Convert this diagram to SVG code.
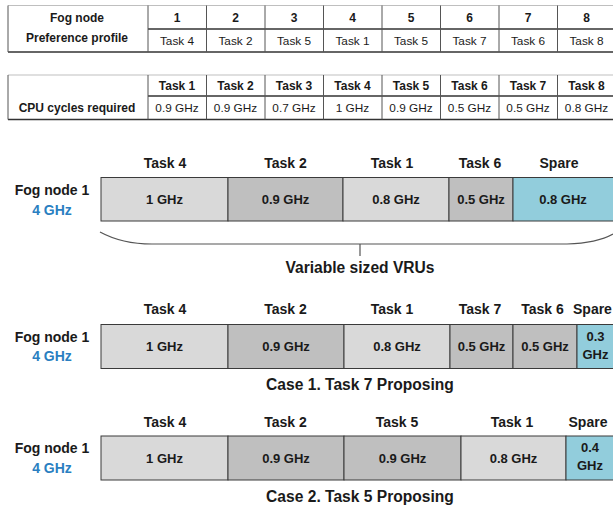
<svg xmlns="http://www.w3.org/2000/svg" width="613" height="510" viewBox="0 0 613 510">
<style>
text{font-family:"Liberation Sans",Arial,sans-serif;fill:#1a1a1a;text-anchor:middle}
.th{font-size:12px;font-weight:bold}
.td{font-size:11.8px}
.lbl{font-size:14px;font-weight:bold}
.val{font-size:13px;font-weight:bold}
.cap{font-size:15.6px;font-weight:bold}
.ghz{fill:#2a7fc1}
.lt{fill:#d9d9d9;stroke:#3a3a3a;stroke-width:1}
.dk{fill:#bfbfbf;stroke:#3a3a3a;stroke-width:1}
.sp{fill:#92cddc;stroke:#3a3a3a;stroke-width:1}
.g{stroke:#bfbfbf;stroke-width:1}
.d{stroke:#333;stroke-width:1.3}
.v{stroke:#555;stroke-width:1}
</style>
<rect width="613" height="510" fill="#fff"/>
<g id="table-preference">
<line class="g" x1="8" y1="5.5" x2="613" y2="5.5"/>
<line class="d" x1="148" y1="29" x2="613" y2="29"/>
<line class="d" x1="8" y1="52" x2="613" y2="52"/>
<g class="v">
<line x1="8" y1="5.5" x2="8" y2="52"/><line x1="148" y1="5.5" x2="148" y2="52"/><line x1="206.5" y1="5.5" x2="206.5" y2="52"/><line x1="265" y1="5.5" x2="265" y2="52"/><line x1="323.5" y1="5.5" x2="323.5" y2="52"/><line x1="382" y1="5.5" x2="382" y2="52"/><line x1="440.5" y1="5.5" x2="440.5" y2="52"/><line x1="499" y1="5.5" x2="499" y2="52"/><line x1="557.5" y1="5.5" x2="557.5" y2="52"/>
</g>
<text class="th" x="77" y="22">Fog node</text>
<text class="th" x="77" y="42">Preference profile</text>
<text class="th" x="177" y="22">1</text><text class="th" x="235.5" y="22">2</text><text class="th" x="294" y="22">3</text><text class="th" x="352.5" y="22">4</text><text class="th" x="411" y="22">5</text><text class="th" x="469.5" y="22">6</text><text class="th" x="528" y="22">7</text><text class="th" x="586.5" y="22">8</text>
<text class="td" x="177" y="45">Task 4</text><text class="td" x="235.5" y="45">Task 2</text><text class="td" x="294" y="45">Task 5</text><text class="td" x="352.5" y="45">Task 1</text><text class="td" x="411" y="45">Task 5</text><text class="td" x="469.5" y="45">Task 7</text><text class="td" x="528" y="45">Task 6</text><text class="td" x="586.5" y="45">Task 8</text>
</g>
<g id="table-cpu">
<line class="g" x1="8" y1="75" x2="613" y2="75"/>
<line class="d" x1="148" y1="96" x2="613" y2="96"/>
<line class="d" x1="8" y1="119.5" x2="613" y2="119.5"/>
<g class="v">
<line x1="8" y1="75" x2="8" y2="119.5"/><line x1="148" y1="75" x2="148" y2="119.5"/><line x1="206.5" y1="75" x2="206.5" y2="119.5"/><line x1="265" y1="75" x2="265" y2="119.5"/><line x1="323.5" y1="75" x2="323.5" y2="119.5"/><line x1="382" y1="75" x2="382" y2="119.5"/><line x1="440.5" y1="75" x2="440.5" y2="119.5"/><line x1="499" y1="75" x2="499" y2="119.5"/><line x1="557.5" y1="75" x2="557.5" y2="119.5"/>
</g>
<text class="th" x="77" y="112">CPU cycles required</text>
<text class="th" x="177" y="90">Task 1</text><text class="th" x="235.5" y="90">Task 2</text><text class="th" x="294" y="90">Task 3</text><text class="th" x="352.5" y="90">Task 4</text><text class="th" x="411" y="90">Task 5</text><text class="th" x="469.5" y="90">Task 6</text><text class="th" x="528" y="90">Task 7</text><text class="th" x="586.5" y="90">Task 8</text>
<text class="td" x="177" y="112">0.9 GHz</text><text class="td" x="235.5" y="112">0.9 GHz</text><text class="td" x="294" y="112">0.7 GHz</text><text class="td" x="352.5" y="112">1 GHz</text><text class="td" x="411" y="112">0.9 GHz</text><text class="td" x="469.5" y="112">0.5 GHz</text><text class="td" x="528" y="112">0.5 GHz</text><text class="td" x="586.5" y="112">0.8 GHz</text>
</g>
<g id="vru-layout">
<text class="lbl" x="52" y="195">Fog node 1</text>
<text class="lbl ghz" x="52" y="215">4 GHz</text>
<rect class="lt" x="101" y="177.5" width="127" height="43.5"/>
<rect class="dk" x="228" y="177.5" width="115" height="43.5"/>
<rect class="lt" x="343" y="177.5" width="106" height="43.5"/>
<rect class="dk" x="449" y="177.5" width="64" height="43.5"/>
<rect class="sp" x="513" y="177.5" width="110" height="43.5"/>
<text class="lbl" x="165" y="168">Task 4</text><text class="lbl" x="285.5" y="168">Task 2</text><text class="lbl" x="392" y="168">Task 1</text><text class="lbl" x="480" y="168">Task 6</text><text class="lbl" x="559" y="168">Spare</text>
<text class="val" x="164.5" y="204">1 GHz</text><text class="val" x="285.5" y="204">0.9 GHz</text><text class="val" x="396" y="204">0.8 GHz</text><text class="val" x="481" y="204">0.5 GHz</text><text class="val" x="563" y="204">0.8 GHz</text>
</g>
<g id="connectors">
<path d="M100,232 Q122,244 152,244 L567,244 Q597,243 613,234 M360,244 L360,256" fill="none" stroke="#555" stroke-width="1.2"/>
</g>
<text class="cap" x="360" y="273">Variable sized VRUs</text>
<g id="case1">
<text class="lbl" x="52" y="342">Fog node 1</text>
<text class="lbl ghz" x="52" y="361">4 GHz</text>
<rect class="lt" x="101" y="324.5" width="127" height="44"/>
<rect class="dk" x="228" y="324.5" width="116" height="44"/>
<rect class="lt" x="344" y="324.5" width="106" height="44"/>
<rect class="dk" x="450" y="324.5" width="63" height="44"/>
<rect class="dk" x="513" y="324.5" width="64" height="44"/>
<rect class="sp" x="577" y="324.5" width="46" height="44"/>
<text class="lbl" x="165" y="314">Task 4</text><text class="lbl" x="285.5" y="314">Task 2</text><text class="lbl" x="392" y="314">Task 1</text><text class="lbl" x="480" y="314">Task 7</text><text class="lbl" x="542.5" y="314">Task 6</text><text class="lbl" x="573" y="314" style="text-anchor:start">Spare</text>
<text class="val" x="164.5" y="351">1 GHz</text><text class="val" x="286" y="351">0.9 GHz</text><text class="val" x="397" y="351">0.8 GHz</text><text class="val" x="481.5" y="351">0.5 GHz</text><text class="val" x="545" y="351">0.5 GHz</text>
<text class="val" x="595.5" y="341">0.3</text><text class="val" x="595.5" y="359">GHz</text>
<text class="cap" x="360" y="390">Case 1. Task 7 Proposing</text>
</g>
<g id="case2">
<text class="lbl" x="52" y="453">Fog node 1</text>
<text class="lbl ghz" x="52" y="473">4 GHz</text>
<rect class="lt" x="101" y="436" width="127" height="44"/>
<rect class="dk" x="228" y="436" width="116" height="44"/>
<rect class="dk" x="344" y="436" width="117" height="44"/>
<rect class="lt" x="461" y="436" width="105" height="44"/>
<rect class="sp" x="566" y="436" width="57" height="44"/>
<text class="lbl" x="165" y="427">Task 4</text><text class="lbl" x="285.5" y="427">Task 2</text><text class="lbl" x="397" y="427">Task 5</text><text class="lbl" x="512" y="427">Task 1</text><text class="lbl" x="588" y="427">Spare</text>
<text class="val" x="164.5" y="463">1 GHz</text><text class="val" x="286" y="463">0.9 GHz</text><text class="val" x="402.5" y="463">0.9 GHz</text><text class="val" x="513.5" y="463">0.8 GHz</text>
<text class="val" x="590" y="452">0.4</text><text class="val" x="590" y="470">GHz</text>
<text class="cap" x="360" y="502">Case 2. Task 5 Proposing</text>
</g>
</svg>
